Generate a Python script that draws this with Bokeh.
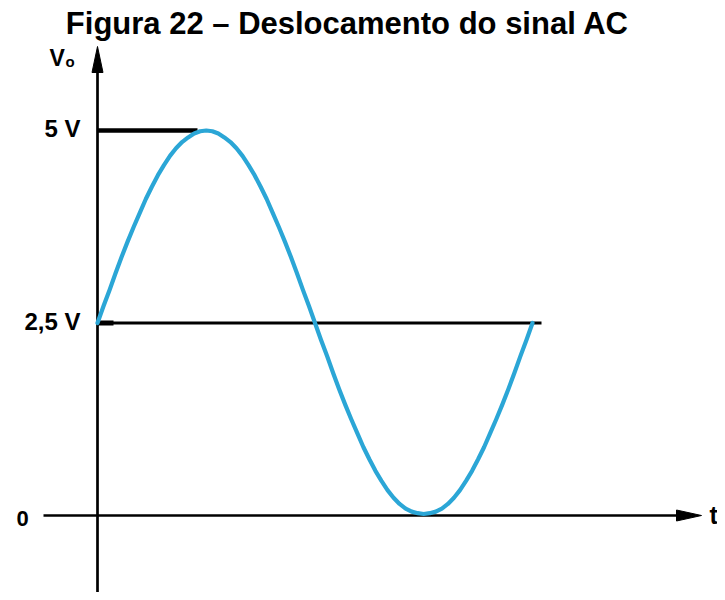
from bokeh.plotting import figure
from bokeh.models import Range1d, Label, ColumnDataSource
from bokeh.embed import file_html
from bokeh.resources import INLINE

# ---- data ----
title_text = "Figura 22 \u2013 Deslocamento do sinal AC"
# time in fractions of one period, signal values in volts
t_vals = [i / 72 for i in range(73)]
v_vals = [2.50, 2.72, 2.93, 3.15, 3.36, 3.56, 3.75, 3.93, 4.11, 4.27,
          4.42, 4.55, 4.67, 4.77, 4.85, 4.91, 4.96, 4.99, 5.00,
          4.99, 4.96, 4.91, 4.85, 4.77, 4.67, 4.55, 4.42, 4.27, 4.11,
          3.93, 3.75, 3.56, 3.36, 3.15, 2.93, 2.72, 2.50,
          2.28, 2.07, 1.85, 1.64, 1.44, 1.25, 1.07, 0.89, 0.73,
          0.58, 0.45, 0.33, 0.23, 0.15, 0.09, 0.05, 0.03, 0.02,
          0.03, 0.05, 0.09, 0.15, 0.23, 0.33, 0.45, 0.58, 0.73,
          0.89, 1.07, 1.25, 1.44, 1.64, 1.85, 2.07, 2.28, 2.50]
tick_values = [0, 2.5, 5]
tick_labels = ["0", "2,5 V", "5 V"]
offset_level = 2.5
peak_level = 5.0

W, H = 717, 592
X0_PX, PX_PER_T = 97, 435.0
Y0_PX, PX_PER_V = 515, 77.0
FONT = "Liberation Sans"

def tx(px):
    return (px - X0_PX) / PX_PER_T

def vy(py):
    return (Y0_PX - py) / PX_PER_V

p = figure(width=W, height=H, output_backend="svg", toolbar_location=None,
           x_range=Range1d(tx(0), tx(W)), y_range=Range1d(vy(H), vy(0)),
           min_border=0)
p.axis.visible = False
p.grid.visible = False
p.outline_line_color = None
p.background_fill_color = "white"

# axes
p.segment(x0=[0], y0=[vy(H + 10)], x1=[0], y1=[vy(68)], line_color="black", line_width=2.7)
p.segment(x0=[tx(43)], y0=[0], x1=[tx(680)], y1=[0], line_color="black", line_width=2.7)
# arrow heads
p.patch(x=[tx(X0_PX - 5.5), tx(X0_PX), tx(X0_PX + 5.5)], y=[vy(72), vy(46), vy(72)],
        fill_color="black", line_color="black", line_width=1)
p.patch(x=[tx(676), tx(701), tx(676)], y=[vy(Y0_PX - 5.5), 0, vy(Y0_PX + 5.5)],
        fill_color="black", line_color="black", line_width=1)

# offset level line and peak marker
p.segment(x0=[0], y0=[offset_level], x1=[tx(541)], y1=[offset_level], line_color="black", line_width=3)
p.segment(x0=[0], y0=[offset_level], x1=[tx(113)], y1=[offset_level], line_color="black", line_width=5)
p.segment(x0=[0], y0=[peak_level], x1=[tx(197)], y1=[peak_level], line_color="black", line_width=4.5)

# signal
src = ColumnDataSource(dict(t=t_vals, v=v_vals))
p.line("t", "v", source=src, line_color="#2ba6d6", line_width=4.2, line_join="round", line_cap="round")

# tick labels
for val, lab in zip(tick_values, tick_labels):
    if val == 0:
        p.add_layout(Label(x=tx(22), y=val, text=lab, text_align="center", text_baseline="middle",
                           y_offset=-3, text_font=FONT, text_font_style="bold",
                           text_font_size="22px", text_color="black"))
    else:
        p.add_layout(Label(x=tx(80), y=val, text=lab, text_align="right", text_baseline="middle",
                           y_offset=2, text_font=FONT, text_font_style="bold",
                           text_font_size="24px", text_color="black"))

# axis labels
p.add_layout(Label(x=tx(49), y=vy(57), text="V", text_align="left", text_baseline="middle",
                   text_font=FONT, text_font_style="bold", text_font_size="23px", text_color="black"))
p.add_layout(Label(x=tx(65), y=vy(61), text="o", text_align="left", text_baseline="middle",
                   text_font=FONT, text_font_style="bold", text_font_size="15px", text_color="black"))
p.add_layout(Label(x=tx(709), y=vy(514), text="t", text_align="left", text_baseline="middle",
                   text_font=FONT, text_font_style="bold", text_font_size="25px", text_color="black"))

# title
p.add_layout(Label(x=tx(347), y=vy(23), text=title_text, text_align="center", text_baseline="middle",
                   text_font=FONT, text_font_style="bold", text_font_size="31px", text_color="black"))

open("out.html", "w").write(file_html(p, INLINE))
